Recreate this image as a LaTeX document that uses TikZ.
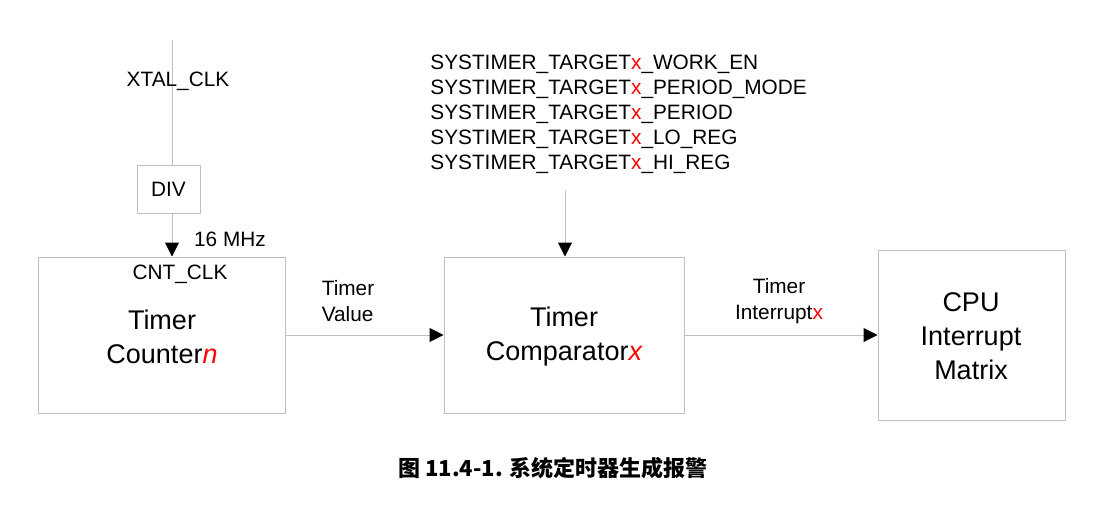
\documentclass[tikz,border=0pt]{standalone}
\usepackage{fontspec}
\setmainfont{Liberation Sans}
\newfontfamily\cjk{Noto Sans CJK SC}
\usetikzlibrary{positioning,arrows.meta}
\tikzset{>={Triangle[length=7pt,width=7pt,fill=black,color=black]}}
\tikzset{blk/.style={draw=black!25,line width=0.5pt},
  wire/.style={draw=black!25,line width=0.5pt},
  lbl/.style={font=\fontsize{10.4}{12}\selectfont,align=left,inner sep=0pt},
  big/.style={font=\fontsize{13.5}{16}\selectfont,align=center,inner sep=0pt}}
\newcommand*{\rx}{\textcolor{red}{x}}

\begin{document}
\begin{tikzpicture}[x=0.5pt,y=-0.5pt]
\useasboundingbox (0,0) rectangle (1110,514);

% Blocks
\node [blk,minimum width=31.5pt,minimum height=24pt] (div) at (168.5,189) {};
\node [lbl] at (div) {DIV};
\node [blk,minimum width=123.5pt,minimum height=78pt] (cnt) at (161.5,335) {};
\node [blk,minimum width=120pt,minimum height=78pt] (cmp) at (564,335) {};
\node [blk,minimum width=93.5pt,minimum height=85pt] (cpu) at (971.5,335) {};

\node [big] at (162,337) {Timer\\[1pt]Counter\textcolor{red}{\itshape n}};
\node [big] at (564,337) {Timer\\[1pt]Comparator\textcolor{red}{\itshape x}};
\node [big] at (971,336) {CPU\\[1pt]Interrupt\\[1pt]Matrix};

% Clock path
\coordinate (xtal) at (172,40);
\draw [wire] (xtal) -- (div.north -| xtal);
\draw [wire,->] (div.south -| xtal) -- (cnt.north -| xtal);
\node [lbl] at (178,81) {XTAL\_CLK};
\node [lbl] at (230,239) {16 MHz};
\node [lbl] at (180,274) {CNT\_CLK};

% Registers
\node [lbl,anchor=north west,align=left,font=\fontsize{10.4}{12.5}\selectfont] (reg) at (430,55)
  {SYSTIMER\_TARGET\rx\_WORK\_EN\\SYSTIMER\_TARGET\rx\_PERIOD\_MODE\\SYSTIMER\_TARGET\rx\_PERIOD\\
   SYSTIMER\_TARGET\rx\_LO\_REG\\SYSTIMER\_TARGET\rx\_HI\_REG};
\coordinate (regb) at (565,190);
\draw [wire,->] (regb) -- (cmp.north -| regb);

% Data path
\draw [wire,->] (cnt.east) -- (cmp.west);
\draw [wire,->] (cmp.east) -- (cpu.west);
\node [lbl,align=left] at (348,301) {Timer\\[1pt]Value};
\node [lbl,align=center] at (779,301) {Timer\\[1pt]Interrupt\rx};

% Caption
\node [font=\cjk\bfseries\fontsize{11}{13}\selectfont,inner sep=0pt] (cap) at (553,468) {图 11.4-1. 系统定时器生成报警};
\end{tikzpicture}
\end{document}
